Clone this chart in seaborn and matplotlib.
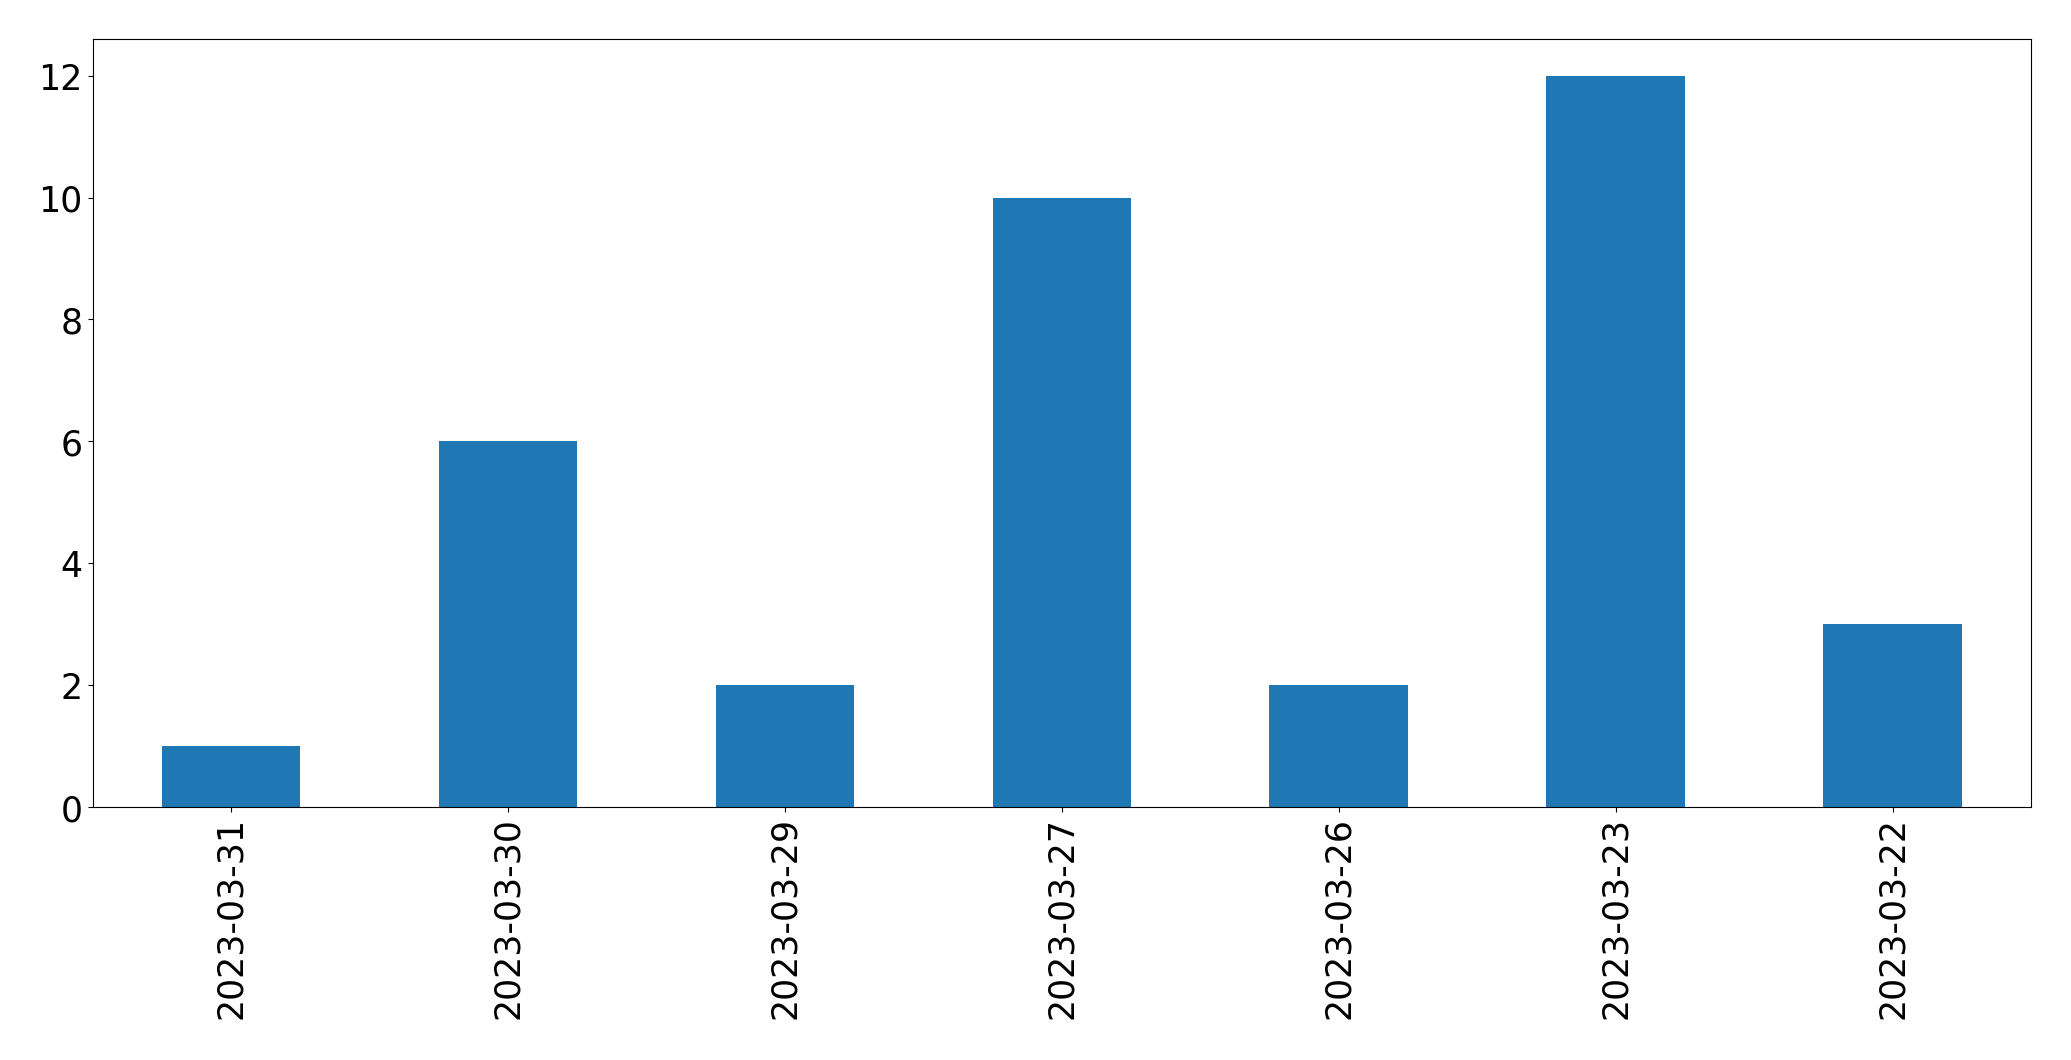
import matplotlib
matplotlib.use("Agg")
import matplotlib.pyplot as plt
import seaborn as sns
import pandas as pd

dates = ["2023-03-31", "2023-03-30", "2023-03-29", "2023-03-27",
         "2023-03-26", "2023-03-23", "2023-03-22"]
counts = [1, 6, 2, 10, 2, 12, 3]

df = pd.DataFrame({"date": dates, "count": counts})

fig, ax = plt.subplots(figsize=(20.71, 10.605), dpi=100)
sns.barplot(data=df, x="date", y="count", order=dates, color="#1f77b4",
            saturation=1, width=0.5, ax=ax)

ax.set_xlim(-0.5, len(dates) - 0.5)
ax.set_ylim(0, 12.6)
ax.set_xlabel("")
ax.set_ylabel("")
ax.tick_params(axis="both", labelsize=25)
plt.xticks(rotation=90)

fig.subplots_adjust(left=0.0447, right=0.9807, top=0.9627, bottom=0.2385)
fig.savefig("out.png", dpi=100)
